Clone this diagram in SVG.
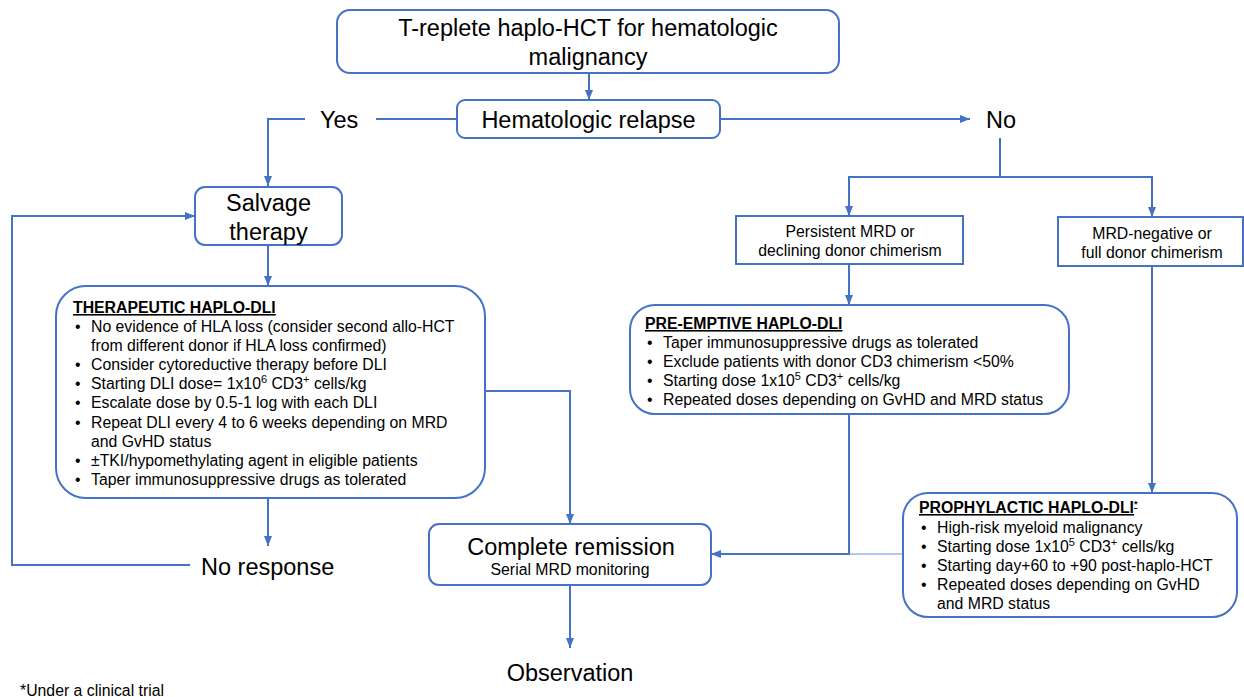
<svg xmlns="http://www.w3.org/2000/svg" width="1244" height="697" viewBox="0 0 1244 697">
<defs>
<marker id="arr" markerUnits="userSpaceOnUse" markerWidth="10" markerHeight="10" viewBox="0 0 10 10" refX="10" refY="5" orient="auto">
<path d="M0,1 L10,5 L0,9 z" fill="#4472C4"/>
</marker>
<style>
.box{fill:#fff;stroke:#4472C4;stroke-width:2}
.c{fill:none;stroke:#4472C4;stroke-width:2}
.ca{fill:none;stroke:#4472C4;stroke-width:2;marker-end:url(#arr)}
.big{font-family:"Liberation Sans",Arial,sans-serif;font-size:23.5px;fill:#000}
.sm{font-family:"Liberation Sans",Arial,sans-serif;font-size:15.8px;fill:#000}
.ttl{font-family:"Liberation Sans",Arial,sans-serif;font-size:15.8px;font-weight:bold;text-decoration:underline;fill:#000}
.mid{text-anchor:middle}
</style>
</defs>
<rect width="1244" height="697" fill="#fff"/>

<g id="connectors">
<path class="ca" d="M589,73 V100"/>
<path class="c" d="M457,119 H376"/>
<path class="ca" d="M305,119 H268 V186"/>
<path class="ca" d="M720,119 H970"/>
<path class="c" d="M1000,138 V177"/>
<path class="ca" d="M1000,177 H849 V216"/>
<path class="ca" d="M1000,177 H1152 V217"/>
<path class="ca" d="M268,245 V286"/>
<path class="ca" d="M485,391 H570 V524"/>
<path class="ca" d="M268,498 V546"/>
<path class="ca" d="M190,565 H12 V216 H195"/>
<path class="ca" d="M849,264 V305"/>
<path class="ca" d="M849,414 V554 H711"/>
<path d="M849,554 H903" fill="none" stroke="#6F90CF" stroke-width="1"/>
<path class="ca" d="M1152,266 V493"/>
<path class="ca" d="M570,585 V648"/>
</g>

<g id="start">
<rect class="box" x="337" y="10" width="502" height="63" rx="13"/>
<text class="big mid" x="588" y="36">T-replete haplo-HCT for hematologic</text>
<text class="big mid" x="588" y="65">malignancy</text>
</g>

<g id="relapse">
<rect class="box" x="457" y="100" width="263" height="38" rx="8"/>
<text class="big mid" x="588.5" y="128">Hematologic relapse</text>
</g>

<g id="yes"><text class="big" x="320" y="128">Yes</text></g>
<g id="no"><text class="big" x="986" y="128">No</text></g>

<g id="salvage">
<rect class="box" x="195" y="187" width="147" height="58" rx="10"/>
<text class="big mid" x="268.5" y="211">Salvage</text>
<text class="big mid" x="268.5" y="240">therapy</text>
</g>

<g id="therapeutic">
<rect class="box" x="56" y="286" width="429" height="212" rx="30"/>
<text class="ttl" x="73" y="313">THERAPEUTIC HAPLO-DLI</text>
<g class="sm">
<text x="75" y="332">•</text><text x="91" y="332">No evidence of HLA loss (consider second allo-HCT</text>
<text x="91" y="351">from different donor if HLA loss confirmed)</text>
<text x="75" y="370">•</text><text x="91" y="370">Consider cytoreductive therapy before DLI</text>
<text x="75" y="389">•</text><text x="91" y="389">Starting DLI dose= 1x10<tspan dy="-6" font-size="11">6</tspan><tspan dy="6"> CD3</tspan><tspan dy="-6" font-size="11">+</tspan><tspan dy="6"> cells/kg</tspan></text>
<text x="75" y="408">•</text><text x="91" y="408">Escalate dose by 0.5-1 log with each DLI</text>
<text x="75" y="428">•</text><text x="91" y="428">Repeat DLI every 4 to 6 weeks depending on MRD</text>
<text x="91" y="447">and GvHD status</text>
<text x="75" y="466">•</text><text x="91" y="466">±TKI/hypomethylating agent in eligible patients</text>
<text x="75" y="485">•</text><text x="91" y="485">Taper immunosuppressive drugs as tolerated</text>
</g>
</g>

<g id="noresponse"><text class="big" x="201" y="575">No response</text></g>

<g id="persistent">
<rect class="box" x="736" y="216" width="227" height="48"/>
<text class="sm mid" x="850" y="237">Persistent MRD or</text>
<text class="sm mid" x="850" y="256">declining donor chimerism</text>
</g>

<g id="mrdneg">
<rect class="box" x="1058" y="217" width="185" height="49"/>
<text class="sm mid" x="1152" y="239">MRD-negative or</text>
<text class="sm mid" x="1152" y="258">full donor chimerism</text>
</g>

<g id="preemptive">
<rect class="box" x="630" y="305" width="439" height="109" rx="25"/>
<text class="ttl" x="645" y="329">PRE-EMPTIVE HAPLO-DLI</text>
<g class="sm">
<text x="647" y="348">•</text><text x="663" y="348">Taper immunosuppressive drugs as tolerated</text>
<text x="647" y="367">•</text><text x="663" y="367">Exclude patients with donor CD3 chimerism &lt;50%</text>
<text x="647" y="386">•</text><text x="663" y="386">Starting dose 1x10<tspan dy="-6" font-size="11">5</tspan><tspan dy="6"> CD3</tspan><tspan dy="-6" font-size="11">+</tspan><tspan dy="6"> cells/kg</tspan></text>
<text x="647" y="405">•</text><text x="663" y="405">Repeated doses depending on GvHD and MRD status</text>
</g>
</g>

<g id="prophylactic">
<rect class="box" x="903" y="493" width="334" height="124" rx="25"/>
<text class="ttl" x="919" y="513">PROPHYLACTIC HAPLO-DLI<tspan dy="-6" font-size="9" text-decoration="none">*</tspan></text>
<g class="sm">
<text x="921" y="533">•</text><text x="937" y="533">High-risk myeloid malignancy</text>
<text x="921" y="552">•</text><text x="937" y="552">Starting dose 1x10<tspan dy="-6" font-size="11">5</tspan><tspan dy="6"> CD3</tspan><tspan dy="-6" font-size="11">+</tspan><tspan dy="6"> cells/kg</tspan></text>
<text x="921" y="571">•</text><text x="937" y="571">Starting day+60 to +90 post-haplo-HCT</text>
<text x="921" y="590">•</text><text x="937" y="590">Repeated doses depending on GvHD</text>
<text x="937" y="609">and MRD status</text>
</g>
</g>

<g id="remission">
<rect class="box" x="429" y="524" width="282" height="61" rx="10"/>
<text class="big mid" x="571" y="555">Complete remission</text>
<text class="sm mid" x="570" y="575">Serial MRD monitoring</text>
</g>

<g id="observation"><text class="big mid" x="570" y="681">Observation</text></g>

<text class="sm" x="20" y="696">*Under a clinical trial</text>
</svg>
